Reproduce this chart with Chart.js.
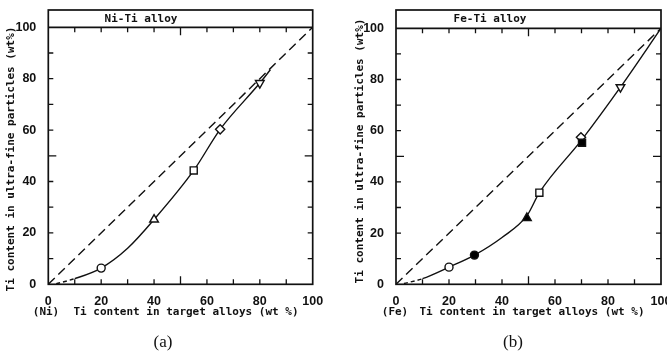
<!DOCTYPE html>
<html><head><meta charset="utf-8">
<script src="https://cdn.jsdelivr.net/npm/chart.js@4/dist/chart.umd.min.js"></script>
<style>
html,body{margin:0;padding:0;width:667px;height:354px;overflow:hidden;background:#fff;}
#wa{position:absolute;left:0;top:0;width:333px;height:354px;}
#wb{position:absolute;left:333px;top:0;width:360px;height:354px;}
canvas{display:block;}
</style></head><body>
<div id="wa"><canvas id="ca" width="333" height="354" style="width:333px;height:354px"></canvas></div>
<div id="wb"><canvas id="cb" width="360" height="354" style="width:360px;height:354px"></canvas></div>
<script>
// ---- data ----
const tickValues = [0, 20, 40, 60, 80, 100];
const minorTickValues = [10, 20, 30, 40, 50, 60, 70, 80, 90];

const idealX = [0, 100];
const idealY = [0, 100];

// (a) Ni-Ti alloy measured points: circle, triangle, square, diamond, inverted triangle
const niAlloyTi = [20, 40, 55, 65, 80];
const niParticleTi = [6.3, 25.2, 44.3, 60.3, 78.3];
// (a) fitted curve
const niCurveX = [3, 10, 20, 30, 40, 55, 65, 80, 84];
const niCurveY = [0.2, 2.2, 6.3, 14, 25.2, 44.3, 60.3, 78.3, 83.5];

// (b) Fe-Ti alloy measured points
const feAlloyTi = [20, 29.6, 49.4, 54.1, 69.8, 70.2, 84.7];
const feParticleTi = [6.7, 11.4, 25.9, 35.8, 57.4, 55.3, 77.0];
// (b) fitted curve
const feCurveX = [3, 10, 20, 29.6, 40, 49.4, 54.1, 70, 84.7, 100];
const feCurveY = [0.3, 2.2, 6.7, 11.4, 18.3, 26.8, 35.8, 56.3, 77.0, 100];

const niLabels = { title: 'Ni-Ti alloy', base: '(Ni)', caption: '(a)' };
const feLabels = { title: 'Fe-Ti alloy', base: '(Fe)', caption: '(b)' };
const xTitle = 'Ti content in target alloys (wt %)';
const yTitle = 'Ti content in ultra-fine particles (wt%)';

// ---- styles ----
const niStyles = ['circle', 'triangle', 'rect', 'rectRot', 'triangle'];
const niRot = [0, 0, 0, 0, 180];
const niFill = ['#fff', '#fff', '#fff', '#fff', '#fff'];
const niRad = [4, 5, 5, 4.6, 5];
const feStyles = ['circle', 'circle', 'triangle', 'rect', 'rectRot', 'rect', 'triangle'];
const feRot = [0, 0, 0, 0, 0, 0, 180];
const feFill = ['#fff', '#000', '#000', '#fff', '#fff', '#000', '#fff'];
const feRad = [4, 4, 5, 5, 4.6, 5, 5];

const zip = (xs, ys) => xs.map((v, i) => ({ x: v, y: ys[i] }));
const INK = '#111';
const MONO = 'bold 11px "DejaVu Sans Mono"';

const framePlugin = {
  id: 'frame',
  afterDraw(chart, args, o) {
    const { ctx, chartArea: { left, right, top, bottom }, scales: { x, y } } = chart;
    ctx.save();
    ctx.strokeStyle = INK;
    ctx.lineWidth = 1.7;
    ctx.strokeRect(left, o.bandTop, right - left, bottom - o.bandTop);
    ctx.beginPath(); ctx.moveTo(left, top); ctx.lineTo(right, top); ctx.stroke();
    ctx.lineWidth = 1.3;
    ctx.beginPath();
    minorTickValues.forEach(v => {
      const L = v === 50 ? 8 : 5;
      const px = x.getPixelForValue(v), py = y.getPixelForValue(v);
      ctx.moveTo(px, bottom); ctx.lineTo(px, bottom - L);
      ctx.moveTo(px, top); ctx.lineTo(px, top + L);
      ctx.moveTo(left, py); ctx.lineTo(left + L, py);
      ctx.moveTo(right, py); ctx.lineTo(right - L, py);
    });
    ctx.stroke();
    ctx.fillStyle = INK;
    ctx.textBaseline = 'middle';
    ctx.textAlign = 'center';
    ctx.font = MONO;
    ctx.fillText(o.labels.title, o.titleX, o.titleY);
    ctx.fillText(xTitle, o.xTitleX, o.xTitleY);
    ctx.fillText(o.labels.base, o.baseX, o.xTitleY);
    ctx.save();
    ctx.translate(o.yTitleX, o.yTitleY);
    ctx.rotate(-Math.PI / 2);
    ctx.fillText(yTitle, 0, 0);
    ctx.restore();
    ctx.font = '17px "Liberation Serif"';
    ctx.fillText(o.labels.caption, o.capX, o.capY);
    ctx.restore();
  }
};

function makeChart(id, pts, curve, pStyles, pRot, pFill, pRad, xAxisW, plotRight, canvasW, plotTop, frameOpts) {
  const axisFont = { family: 'Liberation Sans', size: 12.5, weight: 'bold' };
  return new Chart(document.getElementById(id), {
    type: 'scatter',
    data: {
      datasets: [
        {
          data: zip(idealX, idealY), showLine: true, borderColor: INK, borderWidth: 1.4,
          borderDash: [9, 5], pointRadius: 0, order: 3
        },
        {
          data: curve, showLine: true, borderColor: INK, borderWidth: 1.4, pointRadius: 0,
          cubicInterpolationMode: 'monotone', order: 2,
          segment: { borderDash: c => c.p0DataIndex === 0 ? [4, 3] : undefined }
        },
        {
          data: pts, showLine: false, pointStyle: pStyles, rotation: pRot,
          pointBackgroundColor: pFill, pointBorderColor: INK, pointBorderWidth: 1.4,
          pointRadius: pRad, order: 1
        }
      ]
    },
    options: {
      responsive: false, animation: false, devicePixelRatio: 1,
      layout: { padding: { left: 0, top: plotTop, right: canvasW - plotRight, bottom: 0 } },
      plugins: { legend: { display: false }, tooltip: { enabled: false }, frame: frameOpts },
      scales: {
        x: {
          type: 'linear', min: 0, max: 100,
          afterBuildTicks: s => { s.ticks = tickValues.map(v => ({ value: v })); },
          ticks: { font: axisFont, color: INK, padding: 2, maxRotation: 0, autoSkip: false },
          grid: { display: false }, border: { display: false },
          afterFit: s => { s.height = 354 - 284.3; }
        },
        y: {
          type: 'linear', min: 0, max: 100,
          afterBuildTicks: s => { s.ticks = tickValues.map(v => ({ value: v })); },
          ticks: { font: axisFont, color: INK, padding: 4, autoSkip: false },
          grid: { display: false }, border: { display: false },
          afterFit: s => { s.width = xAxisW; }
        }
      }
    },
    plugins: [framePlugin]
  });
}

makeChart('ca', zip(niAlloyTi, niParticleTi), zip(niCurveX, niCurveY),
  niStyles, niRot, niFill, niRad, 48.3, 312.7, 333, 27.3,
  { labels: niLabels, bandTop: 10, titleX: 141, titleY: 19.5, xTitleX: 186, xTitleY: 312.5,
    baseX: 46, yTitleX: 11.5, yTitleY: 159, capX: 163, capY: 343 });

makeChart('cb', zip(feAlloyTi, feParticleTi), zip(feCurveX, feCurveY),
  feStyles, feRot, feFill, feRad, 63, 328, 360, 28.3,
  { labels: feLabels, bandTop: 10, titleX: 157, titleY: 19.5, xTitleX: 199, xTitleY: 312.5,
    baseX: 62, yTitleX: 27.5, yTitleY: 151, capX: 180, capY: 343 });
</script>
</body></html>
